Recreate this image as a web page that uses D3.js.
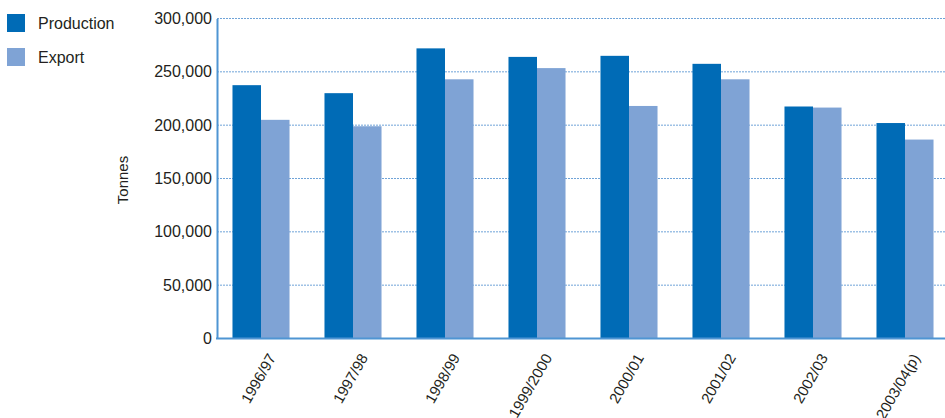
<!DOCTYPE html>
<html>
<head>
<meta charset="utf-8">
<script src="https://cdn.jsdelivr.net/npm/d3@7"></script>
<style>
  body { margin: 0; background: #fff; }
  text { font-family: "Liberation Sans Narrow", "Arial Narrow", "Liberation Sans", Arial, sans-serif; fill: #231f20; }
</style>
</head>
<body>
<div id="chart"></div>
<script>
// chart data
const categories = ['1996/97', '1997/98', '1998/99', '1999/2000', '2000/01', '2001/02', '2002/03', '2003/04(p)'];
const seriesNames = ['Production', 'Export'];
const production = [237500, 230000, 272000, 264000, 265000, 257500, 217500, 202000];
const exportVals = [205000, 199000, 243000, 253500, 218000, 243000, 216500, 186500];
const yTicks = [0, 50000, 100000, 150000, 200000, 250000, 300000];
const colors = ['#006bb6', '#7fa3d5'];

const width = 945, height = 418;
const svg = d3.select('#chart').append('svg')
  .attr('width', width)
  .attr('height', height);

const x0 = d3.scaleBand()
  .domain(categories)
  .range([215, 951])
  .paddingInner(0.38)
  .paddingOuter(0.19);

const x1 = d3.scaleBand()
  .domain(seriesNames)
  .range([0, x0.bandwidth()]);

const y = d3.scaleLinear()
  .domain([0, 300000])
  .range([338.5, 18.5]);

// gridlines
svg.append('g')
  .selectAll('line')
  .data(yTicks.filter(d => d > 0))
  .enter().append('line')
  .attr('x1', 217).attr('x2', width)
  .attr('y1', d => y(d)).attr('y2', d => y(d))
  .attr('stroke', '#6fa3d8')
  .attr('stroke-width', 1)
  .attr('stroke-dasharray', '2,1');

// bars
const rows = categories.map((c, i) => ({ category: c, values: [production[i], exportVals[i]] }));
const groups = svg.selectAll('.g-cat')
  .data(rows)
  .enter().append('g')
  .attr('class', 'g-cat')
  .attr('transform', d => 'translate(' + x0(d.category) + ',0)');

groups.selectAll('rect')
  .data(d => d.values.map((v, i) => ({ key: seriesNames[i], value: v, i: i })))
  .enter().append('rect')
  .attr('x', d => x1(d.key))
  .attr('width', x1.bandwidth())
  .attr('y', d => y(d.value))
  .attr('height', d => y(0) - y(d.value))
  .attr('fill', d => colors[d.i]);

// y axis
const yAxis = d3.axisLeft(y)
  .tickValues(yTicks)
  .tickSize(0)
  .tickPadding(5)
  .tickFormat(d3.format(','));
const yAxisGroup = svg.append('g')
  .attr('transform', 'translate(217,0)')
  .call(yAxis);
yAxisGroup.select('.domain').attr('stroke', '#4f95d3').attr('stroke-width', 2);
yAxisGroup.selectAll('text').style('font-size', '16px').attr('fill', '#231f20');

// x axis line
svg.append('line')
  .attr('x1', 216).attr('x2', width)
  .attr('y1', y(0)).attr('y2', y(0))
  .attr('stroke', '#4f95d3')
  .attr('stroke-width', 2);

// x labels
svg.append('g')
  .selectAll('text')
  .data(categories)
  .enter().append('text')
  .attr('transform', d => 'translate(' + (x0(d) + x0.bandwidth() / 2 + 11) + ',355) rotate(-60)')
  .attr('text-anchor', 'end')
  .attr('dy', '0.35em')
  .style('font-size', '15px')
  .text(d => d);

// y title
svg.append('text')
  .attr('transform', 'translate(123,180) rotate(-90)')
  .attr('text-anchor', 'middle')
  .attr('dy', '0.35em')
  .style('font-size', '15px')
  .text('Tonnes');

// legend
const legend = svg.selectAll('.legend')
  .data(seriesNames)
  .enter().append('g')
  .attr('class', 'legend')
  .attr('transform', (d, i) => 'translate(7,' + (14 + i * 34) + ')');
legend.append('rect')
  .attr('width', 18).attr('height', 18)
  .attr('fill', (d, i) => colors[i]);
legend.append('text')
  .attr('x', 31).attr('y', 9)
  .attr('dy', '0.35em')
  .style('font-size', '16px')
  .text(d => d);
</script>
</body>
</html>
